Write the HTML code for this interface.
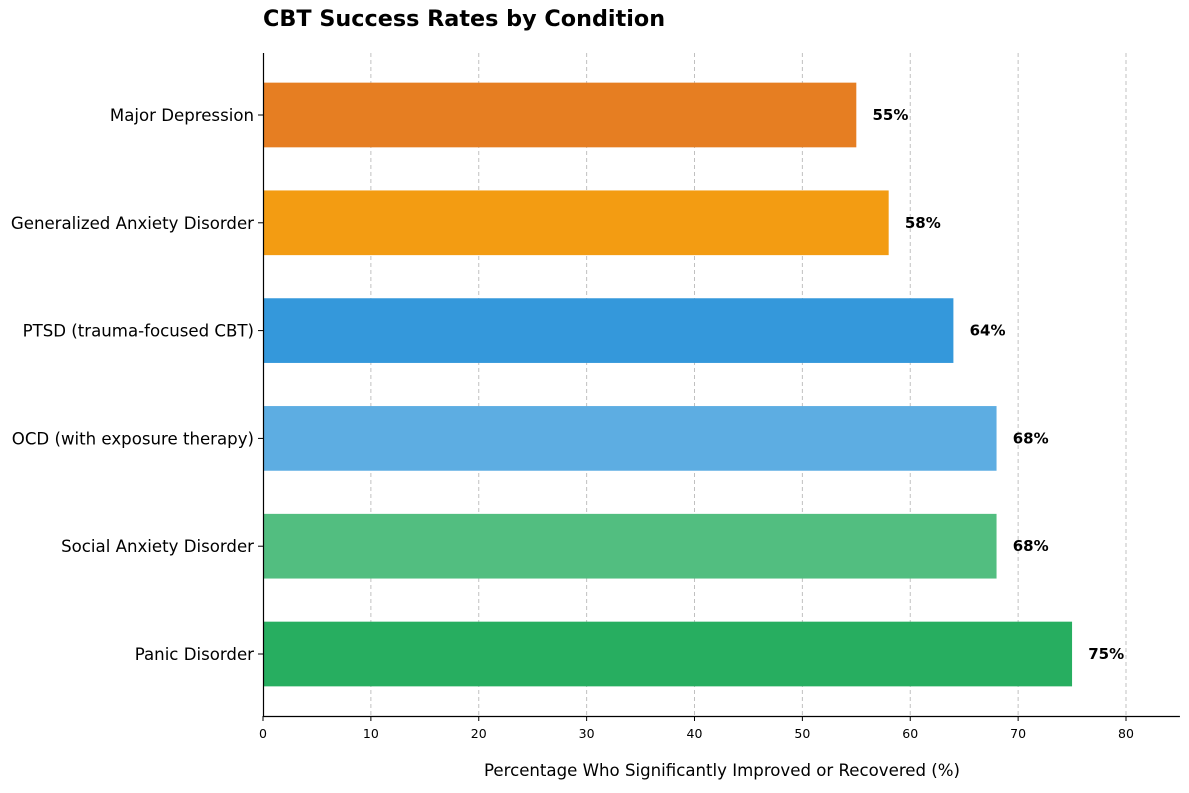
<!DOCTYPE html>
<html><head><meta charset="utf-8"><style>
body{margin:0;background:#fff;font-family:"DejaVu Sans","Liberation Sans",sans-serif;}
</style></head><body>
<svg id="chart" width="1189" height="789" xmlns="http://www.w3.org/2000/svg"></svg>
<script>
const categories=["Major Depression","Generalized Anxiety Disorder","PTSD (trauma-focused CBT)","OCD (with exposure therapy)","Social Anxiety Disorder","Panic Disorder"];
const values=[55,58,64,68,68,75];
const colors=["#e67e22","#f39c12","#3498db","#5dade2","#52be80","#27ae60"];
const xTicks=[0,10,20,30,40,50,60,70,80];
const svgEl=document.getElementById('chart');
const NS='http://www.w3.org/2000/svg';
const x0=263,pxPer=(1126-263)/80,plotTop=53,plotBottom=716,xMax=85;
const xs=v=>x0+v*pxPer;
const nCat=categories.length;
const step=(plotBottom-plotTop)/(nCat-1+1.15);
const yc=i=>plotTop+step*(0.575+i);
const barH=step*0.6;
function mk(t,a,txt){const e=document.createElementNS(NS,t);for(const k in a)e.setAttribute(k,a[k]);if(txt!==undefined)e.textContent=txt;svgEl.appendChild(e);return e;}
xTicks.forEach(t=>{if(t===0)return;
const g=mk('line',{x1:xs(t),x2:xs(t),y1:plotTop,y2:plotBottom,stroke:'#b0b0b0','stroke-width':1,'stroke-dasharray':'4,3','stroke-opacity':0.8});

});
categories.forEach((c,i)=>{
const r=mk('rect',{x:xs(0),y:yc(i)-barH/2,width:xs(values[i])-xs(0),height:barH,fill:colors[i]});


const l=mk('text',{x:xs(values[i]+1.5),y:yc(i)+5,'font-size':15,'font-weight':'bold',fill:'#000'},values[i]+'%');


const yl=mk('text',{x:254,y:yc(i)+6,'font-size':16.6,'text-anchor':'end',fill:'#000'},c);


const tk=mk('line',{x1:258,x2:263,y1:yc(i),y2:yc(i),stroke:'#000','stroke-width':1});


});
const ya=mk('line',{x1:263.5,x2:263.5,y1:plotTop,y2:plotBottom,stroke:'#000','stroke-width':1.2});


const xa=mk('line',{x1:263,x2:xs(xMax),y1:716.5,y2:716.5,stroke:'#000','stroke-width':1.2});


xTicks.forEach(t=>{
const tk=mk('line',{x1:xs(t),x2:xs(t),y1:716,y2:721,stroke:'#000','stroke-width':1});


const tl=mk('text',{x:xs(t),y:738,'font-size':12.5,'text-anchor':'middle',fill:'#000'},String(t));


});
const xt=mk('text',{x:722,y:776,'font-size':16.6,'text-anchor':'middle',fill:'#000'},'Percentage Who Significantly Improved or Recovered (%)');


const tt=mk('text',{x:263,y:26,'font-size':22.3,'font-weight':'bold',fill:'#000'},'CBT Success Rates by Condition');


</script>
</body></html>
